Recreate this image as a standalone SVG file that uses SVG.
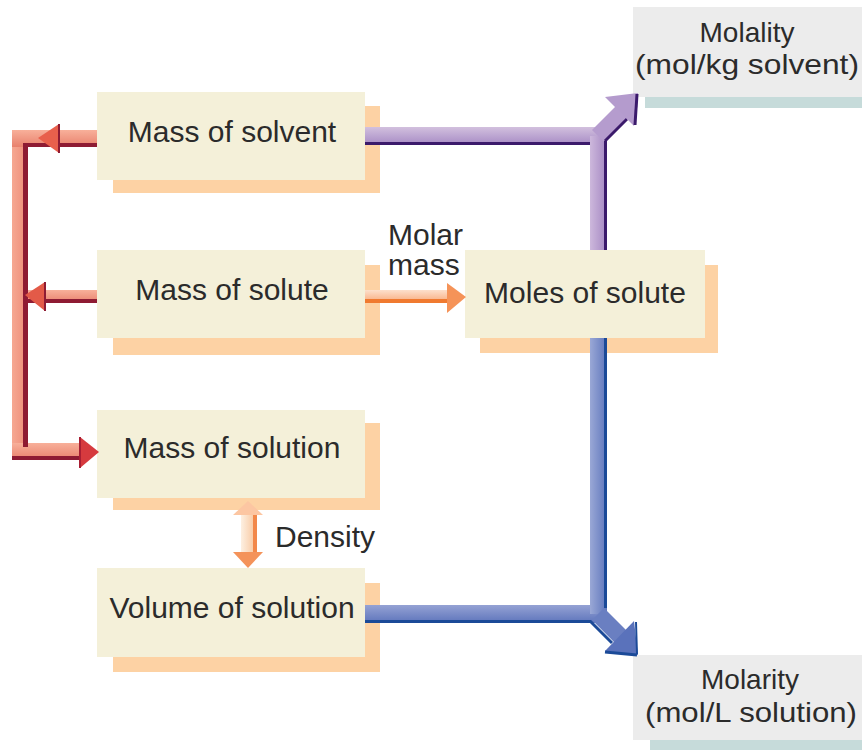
<svg xmlns="http://www.w3.org/2000/svg" width="865" height="753" viewBox="0 0 865 753">
<defs>
<style>
.box{fill:#f4f0d9}
.sh{fill:#fdd2a4}
.gbox{fill:#ececec}
.gsh{fill:#c6dbda}
.t{font-family:"Liberation Sans",Arial,Helvetica,sans-serif;font-size:30px;fill:#2b2b2b}
.s{font-size:28px}
.c{text-anchor:middle}
</style>
<linearGradient id="gPH" x1="0" y1="0" x2="0" y2="1"><stop offset="0" stop-color="#d2c0de"/><stop offset="1" stop-color="#a68ac4"/></linearGradient>
<linearGradient id="gPV" x1="0" y1="0" x2="1" y2="0"><stop offset="0" stop-color="#cdb8dc"/><stop offset="1" stop-color="#a487c2"/></linearGradient>
<linearGradient id="gBH" x1="0" y1="0" x2="0" y2="1"><stop offset="0" stop-color="#95a2d4"/><stop offset="1" stop-color="#5d74bb"/></linearGradient>
<linearGradient id="gBV" x1="0" y1="0" x2="1" y2="0"><stop offset="0" stop-color="#9aa8d6"/><stop offset="1" stop-color="#5f76bc"/></linearGradient>
<linearGradient id="gRH" x1="0" y1="0" x2="0" y2="1"><stop offset="0" stop-color="#f8b09a"/><stop offset="1" stop-color="#e8806c"/></linearGradient>
<linearGradient id="gRV" x1="0" y1="0" x2="1" y2="0"><stop offset="0" stop-color="#f6a892"/><stop offset="1" stop-color="#ec8a76"/></linearGradient>
<linearGradient id="gO" x1="0" y1="0" x2="0" y2="1"><stop offset="0" stop-color="#fde0cc"/><stop offset="1" stop-color="#f8a878"/></linearGradient>
<linearGradient id="gD" x1="0" y1="0" x2="1" y2="0"><stop offset="0" stop-color="#fdf0e2"/><stop offset="1" stop-color="#f8c49a"/></linearGradient>
</defs>
<rect width="865" height="753" fill="#ffffff"/>

<g id="node-mass-solvent">
<rect class="sh" x="113" y="106" width="267" height="87"/>
<rect class="box" x="97" y="92" width="268" height="88"/>
<text class="t c" x="232" y="142">Mass of solvent</text>
</g>
<g id="node-mass-solute">
<rect class="sh" x="113" y="265" width="267" height="90"/>
<rect class="box" x="97" y="250" width="268" height="88"/>
<text class="t c" x="232" y="300">Mass of solute</text>
</g>
<g id="node-mass-solution">
<rect class="sh" x="113" y="423" width="267" height="87"/>
<rect class="box" x="97" y="410" width="268" height="88"/>
<text class="t c" x="232" y="458">Mass of solution</text>
</g>
<g id="node-volume-solution">
<rect class="sh" x="113" y="583" width="267" height="89"/>
<rect class="box" x="97" y="568" width="268" height="89"/>
<text class="t c" x="232" y="618">Volume of solution</text>
</g>
<g id="node-moles-solute">
<rect class="sh" x="480" y="265" width="238" height="88"/>
<rect class="box" x="465" y="250" width="240" height="88"/>
<text class="t c" x="585" y="303">Moles of solute</text>
</g>
<g id="node-molality">
<rect class="gsh" x="645" y="20" width="217" height="88"/>
<rect class="gbox" x="633" y="7" width="229" height="90"/>
<text class="t s c" x="747" y="42">Molality</text>
<text class="t s c" x="747" y="74" textLength="224" lengthAdjust="spacingAndGlyphs">(mol/kg solvent)</text>
</g>
<g id="node-molarity">
<rect class="gsh" x="650" y="668" width="212" height="82"/>
<rect class="gbox" x="633" y="655" width="229" height="85"/>
<text class="t s c" x="750" y="689">Molarity</text>
<text class="t s c" x="751" y="722" textLength="212" lengthAdjust="spacingAndGlyphs">(mol/L solution)</text>
</g>

<g id="connectors">
<g id="conn-molality">
<rect x="365" y="127" width="233" height="18" fill="url(#gPH)"/>
<rect x="590" y="136" width="17" height="114" fill="url(#gPV)"/>
<line x1="598" y1="136" x2="622" y2="112" stroke="#b59cce" stroke-width="17"/>
<rect x="365" y="142" width="225" height="3" fill="#3b1a6b"/>
<rect x="604" y="141" width="3" height="109" fill="#3b1a6b"/>
<line x1="605" y1="141" x2="627" y2="119" stroke="#3b1a6b" stroke-width="3"/>
<polygon points="638,93 605,97 634,126" fill="#b49bcd"/>
<line x1="637" y1="94" x2="635" y2="125" stroke="#3b1a6b" stroke-width="3"/>
</g>
<g id="conn-molarity">
<rect x="365" y="605" width="233" height="18" fill="url(#gBH)"/>
<rect x="590" y="338" width="17" height="276" fill="url(#gBV)"/>
<line x1="598" y1="614" x2="622" y2="638" stroke="#6a7fc1" stroke-width="17"/>
<rect x="365" y="620" width="226" height="3" fill="#1b4a98"/>
<rect x="604" y="338" width="3" height="270" fill="#1b4a98"/>
<line x1="590" y1="621" x2="612" y2="643" stroke="#1b4a98" stroke-width="3"/>
<polygon points="638,655 605,651 634,621" fill="#5a72bb"/>
<line x1="605" y1="652" x2="637" y2="655" stroke="#1b4a98" stroke-width="3"/>
<line x1="636" y1="622" x2="637" y2="654" stroke="#1b4a98" stroke-width="2"/>
</g>
<g id="conn-mass">
<rect x="12" y="130" width="16" height="330" fill="url(#gRV)"/>
<rect x="12" y="130" width="85" height="17" fill="url(#gRH)"/>
<rect x="12" y="443" width="73" height="17" fill="url(#gRH)"/>
<rect x="28" y="290" width="69" height="13" fill="url(#gRH)"/>
<rect x="23" y="144" width="5" height="303" fill="#8e1b33"/>
<rect x="23" y="143" width="74" height="4" fill="#8e1b33"/>
<rect x="28" y="299" width="69" height="4" fill="#8e1b33"/>
<rect x="12" y="456" width="73" height="4" fill="#8e1b33"/>
<polygon points="38,138 59,124 59,153" fill="#e8604c"/>
<line x1="59" y1="124" x2="59" y2="153" stroke="#8e1b33" stroke-width="2"/>
<polygon points="25,295 45,282 45,311" fill="#e35a48"/>
<line x1="45" y1="282" x2="45" y2="311" stroke="#8e1b33" stroke-width="2"/>
<polygon points="99,452 80,437 80,468" fill="#d63a3e"/>
<line x1="80" y1="437" x2="80" y2="468" stroke="#a81e33" stroke-width="2"/>
</g>
<g id="conn-molar-mass">
<rect x="365" y="290" width="85" height="13" fill="url(#gO)"/>
<rect x="365" y="299" width="85" height="4" fill="#f07a30"/>
<polygon points="466,297 447,283 447,313" fill="#f59358"/>
</g>
<g id="conn-density">
<rect x="241" y="512" width="15" height="42" fill="url(#gD)"/>
<rect x="253" y="512" width="4" height="42" fill="#f2884a"/>
<polygon points="248,501 233,515 263,515" fill="#fcc6a2"/>
<polygon points="248,568 233,552 263,552" fill="#f4935a"/>
</g>
<text class="t" x="388" y="245">Molar</text>
<text class="t" x="388" y="275">mass</text>
<text class="t" x="275" y="547">Density</text>
</g>
</svg>
